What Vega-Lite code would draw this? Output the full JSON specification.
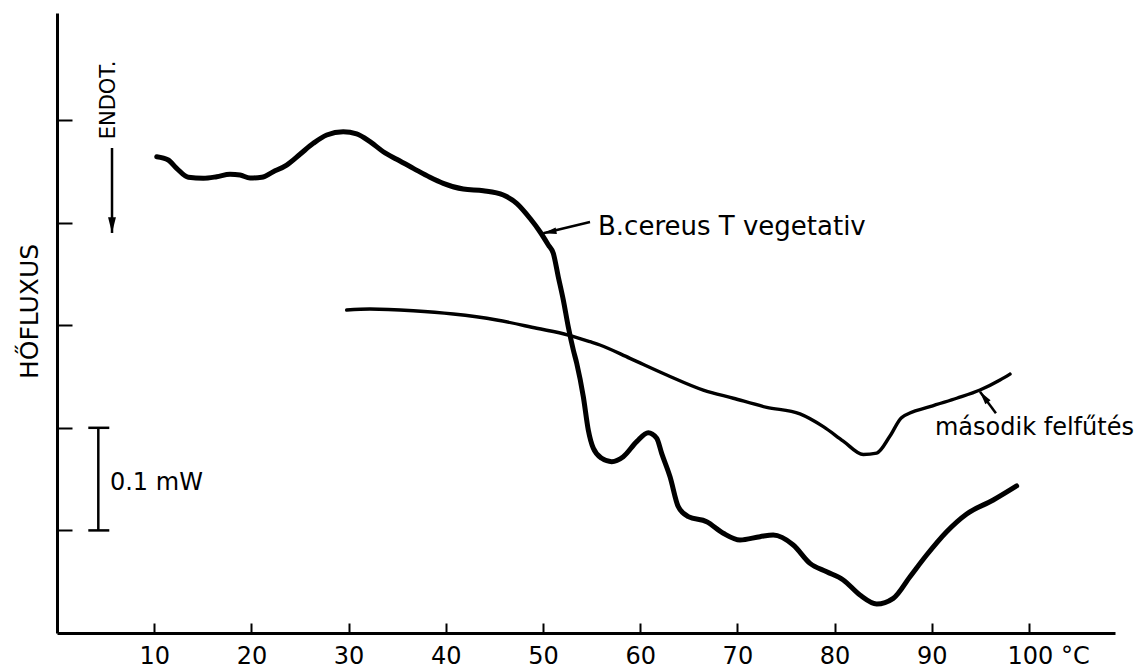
{
  "$schema": "https://vega.github.io/schema/vega-lite/v6.json",
  "width": 1058,
  "height": 620,
  "autosize": "none",
  "padding": {"left": 57, "top": 13, "right": 22, "bottom": 37},
  "background": "white",
  "config": {"view": {"stroke": null}, "font": "DejaVu Sans", "axis": {"grid": false}},
  "datasets": {
    "curves": [
      {"series": "B.cereus T vegetativ", "t": 10.26, "q": 4.642},
      {"series": "B.cereus T vegetativ", "t": 11.45, "q": 4.610},
      {"series": "B.cereus T vegetativ", "t": 12.31, "q": 4.529},
      {"series": "B.cereus T vegetativ", "t": 13.51, "q": 4.442},
      {"series": "B.cereus T vegetativ", "t": 15.05, "q": 4.432},
      {"series": "B.cereus T vegetativ", "t": 16.43, "q": 4.447},
      {"series": "B.cereus T vegetativ", "t": 17.80, "q": 4.471},
      {"series": "B.cereus T vegetativ", "t": 18.83, "q": 4.464},
      {"series": "B.cereus T vegetativ", "t": 19.86, "q": 4.435},
      {"series": "B.cereus T vegetativ", "t": 21.06, "q": 4.442},
      {"series": "B.cereus T vegetativ", "t": 22.25, "q": 4.496},
      {"series": "B.cereus T vegetativ", "t": 23.63, "q": 4.561},
      {"series": "B.cereus T vegetativ", "t": 25.00, "q": 4.666},
      {"series": "B.cereus T vegetativ", "t": 26.37, "q": 4.773},
      {"series": "B.cereus T vegetativ", "t": 27.75, "q": 4.854},
      {"series": "B.cereus T vegetativ", "t": 29.45, "q": 4.886},
      {"series": "B.cereus T vegetativ", "t": 30.83, "q": 4.864},
      {"series": "B.cereus T vegetativ", "t": 32.20, "q": 4.789},
      {"series": "B.cereus T vegetativ", "t": 33.57, "q": 4.691},
      {"series": "B.cereus T vegetativ", "t": 34.95, "q": 4.617},
      {"series": "B.cereus T vegetativ", "t": 36.66, "q": 4.529},
      {"series": "B.cereus T vegetativ", "t": 38.37, "q": 4.442},
      {"series": "B.cereus T vegetativ", "t": 39.74, "q": 4.383},
      {"series": "B.cereus T vegetativ", "t": 41.80, "q": 4.327},
      {"series": "B.cereus T vegetativ", "t": 43.86, "q": 4.311},
      {"series": "B.cereus T vegetativ", "t": 45.92, "q": 4.269},
      {"series": "B.cereus T vegetativ", "t": 47.29, "q": 4.188},
      {"series": "B.cereus T vegetativ", "t": 48.66, "q": 4.042},
      {"series": "B.cereus T vegetativ", "t": 49.69, "q": 3.911},
      {"series": "B.cereus T vegetativ", "t": 50.55, "q": 3.782},
      {"series": "B.cereus T vegetativ", "t": 51.06, "q": 3.701},
      {"series": "B.cereus T vegetativ", "t": 51.57, "q": 3.473},
      {"series": "B.cereus T vegetativ", "t": 52.09, "q": 3.246},
      {"series": "B.cereus T vegetativ", "t": 52.60, "q": 2.985},
      {"series": "B.cereus T vegetativ", "t": 53.12, "q": 2.758},
      {"series": "B.cereus T vegetativ", "t": 53.47, "q": 2.629},
      {"series": "B.cereus T vegetativ", "t": 54.15, "q": 2.303},
      {"series": "B.cereus T vegetativ", "t": 54.66, "q": 1.979},
      {"series": "B.cereus T vegetativ", "t": 55.18, "q": 1.800},
      {"series": "B.cereus T vegetativ", "t": 56.04, "q": 1.703},
      {"series": "B.cereus T vegetativ", "t": 57.07, "q": 1.670},
      {"series": "B.cereus T vegetativ", "t": 58.26, "q": 1.718},
      {"series": "B.cereus T vegetativ", "t": 59.64, "q": 1.865},
      {"series": "B.cereus T vegetativ", "t": 60.83, "q": 1.952},
      {"series": "B.cereus T vegetativ", "t": 61.70, "q": 1.898},
      {"series": "B.cereus T vegetativ", "t": 62.21, "q": 1.751},
      {"series": "B.cereus T vegetativ", "t": 63.07, "q": 1.523},
      {"series": "B.cereus T vegetativ", "t": 63.92, "q": 1.231},
      {"series": "B.cereus T vegetativ", "t": 64.95, "q": 1.134},
      {"series": "B.cereus T vegetativ", "t": 66.84, "q": 1.085},
      {"series": "B.cereus T vegetativ", "t": 68.55, "q": 0.972},
      {"series": "B.cereus T vegetativ", "t": 70.27, "q": 0.906},
      {"series": "B.cereus T vegetativ", "t": 72.33, "q": 0.939},
      {"series": "B.cereus T vegetativ", "t": 73.69, "q": 0.955},
      {"series": "B.cereus T vegetativ", "t": 75.75, "q": 0.858},
      {"series": "B.cereus T vegetativ", "t": 77.47, "q": 0.679},
      {"series": "B.cereus T vegetativ", "t": 79.19, "q": 0.597},
      {"series": "B.cereus T vegetativ", "t": 80.89, "q": 0.517},
      {"series": "B.cereus T vegetativ", "t": 82.61, "q": 0.370},
      {"series": "B.cereus T vegetativ", "t": 84.33, "q": 0.283},
      {"series": "B.cereus T vegetativ", "t": 86.04, "q": 0.338},
      {"series": "B.cereus T vegetativ", "t": 87.76, "q": 0.549},
      {"series": "B.cereus T vegetativ", "t": 89.47, "q": 0.760},
      {"series": "B.cereus T vegetativ", "t": 91.53, "q": 0.987},
      {"series": "B.cereus T vegetativ", "t": 93.59, "q": 1.160},
      {"series": "B.cereus T vegetativ", "t": 96.33, "q": 1.296},
      {"series": "B.cereus T vegetativ", "t": 98.73, "q": 1.433},
      {"series": "második felfűtés", "t": 29.80, "q": 3.148},
      {"series": "második felfűtés", "t": 32.20, "q": 3.158},
      {"series": "második felfűtés", "t": 36.66, "q": 3.141},
      {"series": "második felfűtés", "t": 40.77, "q": 3.109},
      {"series": "második felfűtés", "t": 45.24, "q": 3.051},
      {"series": "második felfűtés", "t": 49.35, "q": 2.970},
      {"series": "második felfűtés", "t": 52.60, "q": 2.904},
      {"series": "második felfűtés", "t": 54.84, "q": 2.839},
      {"series": "második felfűtés", "t": 55.86, "q": 2.807},
      {"series": "második felfűtés", "t": 58.95, "q": 2.677},
      {"series": "második felfűtés", "t": 62.73, "q": 2.515},
      {"series": "második felfűtés", "t": 66.49, "q": 2.368},
      {"series": "második felfűtés", "t": 69.58, "q": 2.288},
      {"series": "második felfűtés", "t": 73.01, "q": 2.200},
      {"series": "második felfűtés", "t": 76.44, "q": 2.135},
      {"series": "második felfűtés", "t": 78.84, "q": 2.011},
      {"series": "második felfűtés", "t": 80.89, "q": 1.871},
      {"series": "második felfűtés", "t": 82.95, "q": 1.740},
      {"series": "második felfűtés", "t": 84.33, "q": 1.754},
      {"series": "második felfűtés", "t": 85.70, "q": 1.920},
      {"series": "második felfűtés", "t": 86.90, "q": 2.100},
      {"series": "második felfűtés", "t": 89.81, "q": 2.206},
      {"series": "második felfűtés", "t": 92.56, "q": 2.288},
      {"series": "második felfűtés", "t": 94.96, "q": 2.368},
      {"series": "második felfűtés", "t": 97.02, "q": 2.466},
      {"series": "második felfűtés", "t": 98.05, "q": 2.524}
    ],
    "arrows": [
      {"id": "endot", "x": 5.66, "y": 4.727, "x2": 5.66, "y2": 3.899},
      {"id": "bcereus", "x": 54.84, "y": 4.006, "x2": 50.03, "y2": 3.897},
      {"id": "masodik", "x": 96.6, "y": 2.141, "x2": 94.96, "y2": 2.352}
    ],
    "bracket": [
      {"x": 4.25, "y": 1, "x2": 4.25, "y2": 2},
      {"x": 3.22, "y": 1, "x2": 5.38, "y2": 1},
      {"x": 3.22, "y": 2, "x2": 5.38, "y2": 2}
    ],
    "labels": [
      {"id": "bcereus", "text": "B.cereus T vegetativ", "x": 55.66, "y": 3.879},
      {"id": "masodik", "text": "második felfűtés", "x": 90.33, "y": 1.930},
      {"id": "scale", "text": "0.1 mW", "x": 5.45, "y": 1.39},
      {"id": "endot", "text": "ENDOT.", "x": 5.3, "y": 5.195}
    ]
  },
  "layer": [
    {
      "data": {"name": "curves"},
      "transform": [{"filter": "datum.series === 'B.cereus T vegetativ'"}],
      "mark": {"type": "line", "color": "black", "strokeWidth": 5, "strokeCap": "round", "strokeJoin": "round", "interpolate": "monotone"},
      "encoding": {
        "x": {
          "field": "t", "type": "quantitative",
          "scale": {"domain": [0, 108.85], "nice": false, "zero": false},
          "axis": {
            "values": [10, 20, 30, 40, 50, 60, 70, 80, 90, 100],
            "title": null,
            "tickSize": -10, "tickWidth": 2, "tickColor": "black",
            "domainColor": "black", "domainWidth": 3,
            "labelFont": "DejaVu Sans", "labelFontSize": 24, "labelColor": "black",
            "labelPadding": 21, "labelBaseline": "top",
            "labelExpr": "datum.value === 100 ? '100 °C' : datum.label",
            "labelAlign": {"condition": {"test": "datum.value === 100", "value": "left"}, "value": "center"},
            "labelOffset": {"condition": {"test": "datum.value === 100", "value": -22}, "value": 0},
            "labelFlush": false, "labelOverlap": false
          }
        },
        "y": {
          "field": "q", "type": "quantitative",
          "scale": {"domain": [0, 6.043], "nice": false, "zero": false},
          "axis": {
            "values": [1, 2, 3, 4, 5],
            "labels": false,
            "tickSize": -15, "tickWidth": 2, "tickColor": "black",
            "domainColor": "black", "domainWidth": 3,
            "title": "HŐFLUXUS",
            "titleFont": "DejaVu Sans", "titleFontSize": 25, "titleFontWeight": "normal", "titleColor": "black",
            "titleAngle": 270, "titleX": -28, "titleY": 298, "titleAlign": "center", "titleBaseline": "middle"
          }
        }
      }
    },
    {
      "data": {"name": "curves"},
      "transform": [{"filter": "datum.series === 'második felfűtés'"}],
      "mark": {"type": "line", "color": "black", "strokeWidth": 3.4, "strokeCap": "round", "strokeJoin": "round", "interpolate": "monotone"},
      "encoding": {
        "x": {"field": "t", "type": "quantitative", "scale": {"domain": [0, 108.85], "nice": false, "zero": false}},
        "y": {"field": "q", "type": "quantitative", "scale": {"domain": [0, 6.043], "nice": false, "zero": false}}
      }
    },
    {
      "data": {"name": "arrows"},
      "mark": {"type": "rule", "color": "black", "strokeWidth": 2.5},
      "encoding": {
        "x": {"field": "x", "type": "quantitative"},
        "y": {"field": "y", "type": "quantitative"},
        "x2": {"field": "x2"},
        "y2": {"field": "y2"}
      }
    },
    {
      "data": {"name": "arrows"},
      "transform": [{"filter": "datum.id === 'endot'"}],
      "mark": {"type": "point", "shape": "M0,0L-0.25,-1L0.25,-1Z", "filled": true, "color": "black", "opacity": 1, "size": 1000, "angle": 0},
      "encoding": {"x": {"field": "x2", "type": "quantitative"}, "y": {"field": "y2", "type": "quantitative"}}
    },
    {
      "data": {"name": "arrows"},
      "transform": [{"filter": "datum.id === 'bcereus'"}],
      "mark": {"type": "point", "shape": "M0,0L-0.25,-1L0.25,-1Z", "filled": true, "color": "black", "opacity": 1, "size": 700, "angle": 79},
      "encoding": {"x": {"field": "x2", "type": "quantitative"}, "y": {"field": "y2", "type": "quantitative"}}
    },
    {
      "data": {"name": "arrows"},
      "transform": [{"filter": "datum.id === 'masodik'"}],
      "mark": {"type": "point", "shape": "M0,0L-0.25,-1L0.25,-1Z", "filled": true, "color": "black", "opacity": 1, "size": 700, "angle": 143},
      "encoding": {"x": {"field": "x2", "type": "quantitative"}, "y": {"field": "y2", "type": "quantitative"}}
    },
    {
      "data": {"name": "bracket"},
      "mark": {"type": "rule", "color": "black", "strokeWidth": 2.5},
      "encoding": {
        "x": {"field": "x", "type": "quantitative"},
        "y": {"field": "y", "type": "quantitative"},
        "x2": {"field": "x2"},
        "y2": {"field": "y2"}
      }
    },
    {
      "data": {"name": "labels"},
      "transform": [{"filter": "datum.id === 'masodik' || datum.id === 'scale'"}],
      "mark": {"type": "text", "font": "DejaVu Sans", "fontSize": 24, "color": "black", "align": "left", "baseline": "alphabetic"},
      "encoding": {
        "x": {"field": "x", "type": "quantitative"},
        "y": {"field": "y", "type": "quantitative"},
        "text": {"field": "text"}
      }
    },
    {
      "data": {"name": "labels"},
      "transform": [{"filter": "datum.id === 'bcereus'"}],
      "mark": {"type": "text", "font": "DejaVu Sans", "fontSize": 26, "color": "black", "align": "left", "baseline": "alphabetic"},
      "encoding": {
        "x": {"field": "x", "type": "quantitative"},
        "y": {"field": "y", "type": "quantitative"},
        "text": {"field": "text"}
      }
    },
    {
      "data": {"name": "labels"},
      "transform": [{"filter": "datum.id === 'endot'"}],
      "mark": {"type": "text", "font": "DejaVu Sans", "fontSize": 21, "color": "black", "align": "center", "baseline": "middle", "angle": 270},
      "encoding": {
        "x": {"field": "x", "type": "quantitative"},
        "y": {"field": "y", "type": "quantitative"},
        "text": {"field": "text"}
      }
    }
  ]
}
